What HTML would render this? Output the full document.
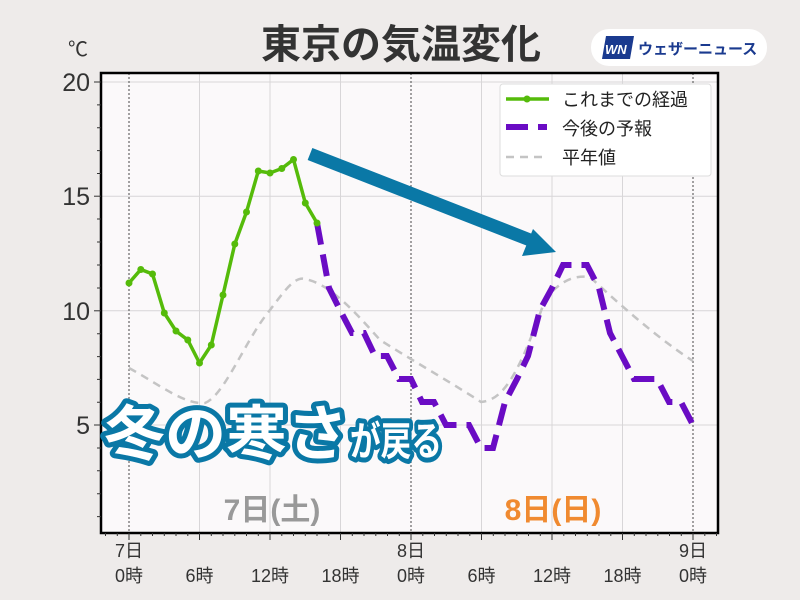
<!DOCTYPE html><html><head><meta charset="utf-8"><style>
body{margin:0;background:#eeebea;}
svg{display:block;font-family:"Liberation Sans","Noto Sans CJK JP",sans-serif;}
</style></head><body>
<svg width="800" height="600" viewBox="0 0 800 600">
<rect width="800" height="600" fill="#eeebea"/>
<text x="401" y="58" text-anchor="middle" font-size="40" font-weight="bold" fill="#333">東京の気温変化</text>
<text x="78" y="56" text-anchor="middle" font-size="20" fill="#333">℃</text>
<rect x="591" y="29" width="176" height="37" rx="18" fill="#fff"/>
<polygon points="606,36 634,36 630,59 602,59" fill="#1a3a8f"/>
<text x="605" y="54" font-size="13" font-weight="bold" fill="#fff" font-style="italic">WN</text>
<text x="638" y="54" font-size="15" font-weight="bold" fill="#1a3a8f">ウェザーニュース</text>
<rect x="101" y="73" width="617" height="460" fill="#fbf9fa"/>
<g stroke="#d8d6d8" stroke-width="1">
<line x1="101" x2="718" y1="196.2" y2="196.2"/><line x1="101" x2="718" y1="310.8" y2="310.8"/><line x1="101" x2="718" y1="425" y2="425"/><line x1="101" x2="718" y1="82" y2="82"/>
<line x1="199.5" x2="199.5" y1="73" y2="533"/><line x1="270" x2="270" y1="73" y2="533"/><line x1="340.5" x2="340.5" y1="73" y2="533"/>
<line x1="481.5" x2="481.5" y1="73" y2="533"/><line x1="552" x2="552" y1="73" y2="533"/><line x1="622.5" x2="622.5" y1="73" y2="533"/>
</g>
<g stroke="#666" stroke-width="1.2" stroke-dasharray="2,2">
<line x1="129" x2="129" y1="73" y2="533"/><line x1="411" x2="411" y1="73" y2="533"/><line x1="693" x2="693" y1="73" y2="533"/>
</g>
<rect x="101" y="73" width="617" height="460" fill="none" stroke="#000" stroke-width="2.5"/>
<g stroke="#333" stroke-width="1">
<line x1="94" x2="101" y1="82" y2="82"/><line x1="94" x2="101" y1="196.2" y2="196.2"/><line x1="94" x2="101" y1="310.8" y2="310.8"/><line x1="94" x2="101" y1="425" y2="425"/>
<path d="M97 104.9h4M97 127.8h4M97 150.6h4M97 173.5h4M97 219h4M97 242h4M97 265h4M97 288h4M97 333.7h4M97 356.6h4M97 379.4h4M97 402.3h4M97 448h4M97 470.8h4M97 493.7h4M97 516.6h4"/>
<path d="M129 533v7M199.5 533v7M270 533v7M340.5 533v7M411 533v7M481.5 533v7M552 533v7M622.5 533v7M693 533v7"/>
<path d="M105.5 533v3M117.3 533v3M140.8 533v3M152.5 533v3M164.3 533v3M176 533v3M187.8 533v3M211.3 533v3M223 533v3M234.8 533v3M246.5 533v3M258.3 533v3M281.8 533v3M293.5 533v3M305.3 533v3M317 533v3M328.8 533v3M352.3 533v3M364 533v3M375.8 533v3M387.5 533v3M399.3 533v3M422.8 533v3M434.5 533v3M446.3 533v3M458 533v3M469.8 533v3M493.3 533v3M505 533v3M516.8 533v3M528.5 533v3M540.3 533v3M563.8 533v3M575.5 533v3M587.3 533v3M599 533v3M610.8 533v3M634.3 533v3M646 533v3M657.8 533v3M669.5 533v3M681.3 533v3M704.8 533v3M716.5 533v3"/>
</g>
<g font-size="25" fill="#333" text-anchor="end">
<text x="90" y="91">20</text><text x="90" y="205">15</text><text x="90" y="320">10</text><text x="90" y="434">5</text>
</g>
<g font-size="18" fill="#333" text-anchor="middle">
<text x="129" y="557">7日</text><text x="129" y="582">0時</text>
<text x="199.5" y="582">6時</text><text x="270" y="582">12時</text><text x="340.5" y="582">18時</text>
<text x="411" y="557">8日</text><text x="411" y="582">0時</text>
<text x="481.5" y="582">6時</text><text x="552" y="582">12時</text><text x="622.5" y="582">18時</text>
<text x="693" y="557">9日</text><text x="693" y="582">0時</text>
</g>
<text x="272" y="520" text-anchor="middle" font-size="30" font-weight="bold" fill="#999">7日(土)</text>
<text x="553" y="520" text-anchor="middle" font-size="30" font-weight="bold" fill="#f08a30">8日(日)</text>
<path d="M129 368C160 385 185 405 205 403C225 395 245 340 270 310C285 290 295 276 305 279C325 283 345 300 380 340C420 365 455 385 481 402C505 400 520 370 545 300C560 280 575 275 590 277C620 305 660 340 693 361" fill="none" stroke="#c4c4c4" stroke-width="2.5" stroke-dasharray="8,6"/>
<polyline points="317,223 329,288 340,310 352,333 364,333 375,356 387,356 399,379 411,379 422,402 434,402 446,425 458,425 469,425 481,448 493,448 505,402 517,379 528,356 540,310 552,288 563,265 575,265 587,265 599,288 610,333 622,356 634,379 646,379 657,379 669,402 681,402 693,425" fill="none" stroke="#6a0cc4" stroke-width="6" stroke-dasharray="22,10"/>
<polyline points="129,283 140.8,269.5 152.5,274 164.3,313 176,331 187.8,340 199.5,363 211.3,345 223,295 234.8,244 246.5,212 258.3,171 270,173 281.8,168.5 293.5,159.5 305.3,203 317,223" fill="none" stroke="#55bb0a" stroke-width="3.5"/>
<g fill="#55bb0a">
<circle cx="129" cy="283" r="3.5"/><circle cx="140.8" cy="269.5" r="3.5"/><circle cx="152.5" cy="274" r="3.5"/><circle cx="164.3" cy="313" r="3.5"/><circle cx="176" cy="331" r="3.5"/><circle cx="187.8" cy="340" r="3.5"/><circle cx="199.5" cy="363" r="3.5"/><circle cx="211.3" cy="345" r="3.5"/><circle cx="223" cy="295" r="3.5"/><circle cx="234.8" cy="244" r="3.5"/><circle cx="246.5" cy="212" r="3.5"/><circle cx="258.3" cy="171" r="3.5"/><circle cx="270" cy="173" r="3.5"/><circle cx="281.8" cy="168.5" r="3.5"/><circle cx="293.5" cy="159.5" r="3.5"/><circle cx="305.3" cy="203" r="3.5"/><circle cx="317" cy="223" r="3.5"/>
</g>
<line x1="310" y1="154" x2="530" y2="240" stroke="#0a78a6" stroke-width="13"/>
<polygon points="556,252 522,256 533,229" fill="#0a78a6"/>
<rect x="500" y="84" width="211" height="92" rx="3" fill="#fff" stroke="#ddd"/>
<line x1="506" x2="549" y1="99" y2="99" stroke="#55bb0a" stroke-width="3.5"/><circle cx="527" cy="99" r="3.5" fill="#55bb0a"/>
<line x1="506" x2="547" y1="127" y2="127" stroke="#6a0cc4" stroke-width="6" stroke-dasharray="22,10"/>
<line x1="506" x2="547" y1="157" y2="157" stroke="#c4c4c4" stroke-width="2.5" stroke-dasharray="8,6"/>
<g font-size="18" fill="#222"><text x="562" y="106">これまでの経過</text><text x="562" y="135">今後の予報</text><text x="562" y="164">平年値</text></g>
<g font-weight="bold" fill="#fff" stroke="#0a78a6" stroke-width="10" stroke-linejoin="round" paint-order="stroke">
<text x="104" y="455" font-size="60" textLength="244" lengthAdjust="spacingAndGlyphs">冬の寒さ</text>
<text x="350" y="455" font-size="40" textLength="92" lengthAdjust="spacingAndGlyphs">が戻る</text>
</g>
</svg>
</body></html>
